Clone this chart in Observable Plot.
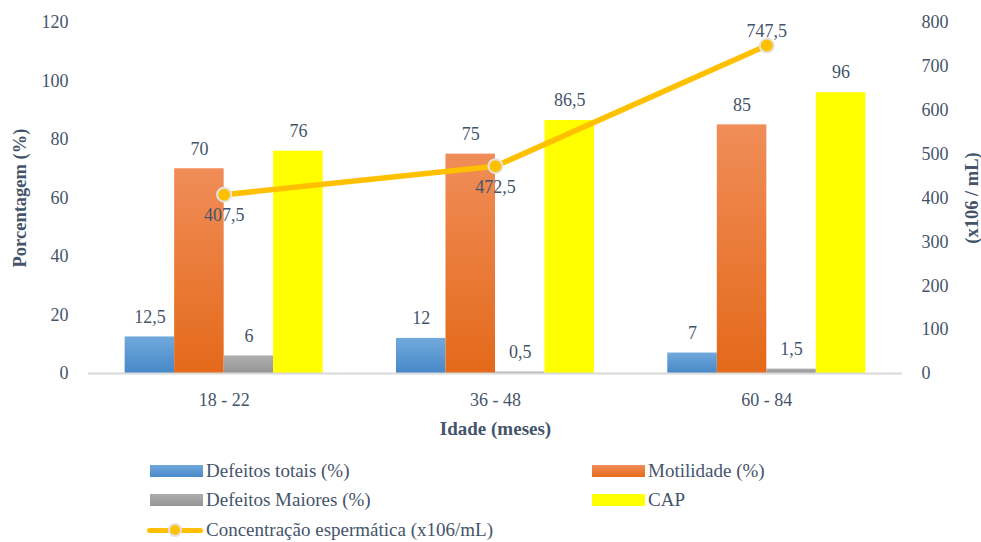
<!DOCTYPE html>
<html>
<head>
<meta charset="utf-8">
<script src="https://cdn.jsdelivr.net/npm/d3@7"></script>
<script src="https://cdn.jsdelivr.net/npm/@observablehq/plot@0.6"></script>
<style>
  body { margin: 0; background: #fff; }
  #wrap { position: relative; width: 981px; height: 542px; font-family: "Liberation Serif", serif; color: #44546A; }
  #chart svg { display: block; }
  .leg { position: absolute; display: flex; align-items: center; font-size: 19px; line-height: 22px; white-space: nowrap; }
  .sw { width: 53px; height: 12px; margin-right: 3px; }
  .swline { position: relative; width: 56px; height: 14px; margin-right: 3px; }
  .swline .ln { position: absolute; left: 0; right: 0; top: 5px; height: 5px; background: #FFC000; border-radius: 3px; }
  .swline .pt { position: absolute; left: 21px; top: 0; width: 10px; height: 10px; border-radius: 50%; background: #FFC000; border: 2px solid #E2E2E2; }
</style>
</head>
<body>
<div id="wrap">
  <div id="chart"></div>
  <div class="leg" style="left:150px; top:460px;"><div class="sw" style="background:linear-gradient(#6FA8DC,#4A89C9)"></div>Defeitos totais (%)</div>
  <div class="leg" style="left:592px; top:460px;"><div class="sw" style="background:linear-gradient(#F08D57,#E46C1C)"></div>Motilidade (%)</div>
  <div class="leg" style="left:150px; top:489px;"><div class="sw" style="background:linear-gradient(#ADADAD,#959595)"></div>Defeitos Maiores (%)</div>
  <div class="leg" style="left:592px; top:489px;"><div class="sw" style="background:#FFFF00"></div>CAP</div>
  <div class="leg" style="left:147px; top:519px;"><div class="swline"><div class="ln"></div><div class="pt"></div></div>Concentração espermática (x106/mL)</div>
</div>
<script>
// Age classes (months)
const ages = ["18 - 22", "36 - 48", "60 - 84"];

// Percentages (left axis)
const defeitosTotais = [12.5, 12, 7];
const motilidade = [70, 75, 85];
const defeitosMaiores = [6, 0.5, 1.5];
const cap = [76, 86.5, 96];

// Sperm concentration, x10^6 / mL (right axis)
const concentracao = [407.5, 472.5, 747.5];

// Axis ticks
const leftTicks = [0, 20, 40, 60, 80, 100, 120];
const rightTicks = [0, 100, 200, 300, 400, 500, 600, 700, 800];

const leftMax = 120, rightMax = 800;
const toLeft = v => v * leftMax / rightMax;
const fmt = v => String(v).replace(".", ",");
const textColor = "#44546A";

const series = [
  {values: defeitosTotais, fill: "url(#gBlue)"},
  {values: motilidade, fill: "url(#gOrange)"},
  {values: defeitosMaiores, fill: "url(#gGrey)"},
  {values: cap, fill: "#FFFF00"}
];
const groupWidth = 0.73;
const barW = groupWidth / series.length;

const barRows = series.map((s, k) => s.values.map((v, i) => ({
  x1: i - groupWidth / 2 + k * barW,
  x2: i - groupWidth / 2 + (k + 1) * barW,
  xc: i - groupWidth / 2 + (k + 0.5) * barW,
  v
})));

const lineRows = concentracao.map((v, i) => ({i, v, y: toLeft(v)}));

function gradients() {
  const defs = d3.create("svg:defs");
  const add = (id, top, bottom) => {
    const g = defs.append("linearGradient").attr("id", id).attr("x1", 0).attr("x2", 0).attr("y1", 0).attr("y2", 1);
    g.append("stop").attr("offset", "0%").attr("stop-color", top);
    g.append("stop").attr("offset", "100%").attr("stop-color", bottom);
  };
  add("gBlue", "#70A9DD", "#4888C8");
  add("gOrange", "#F08D58", "#E4691A");
  add("gGrey", "#AEAEAE", "#959595");
  return defs.node();
}

const chart = Plot.plot({
  width: 981,
  height: 450,
  marginLeft: 88,
  marginRight: 79,
  marginTop: 22,
  marginBottom: 77,
  style: {fontFamily: "Liberation Serif, serif", fontSize: "18px", color: textColor, background: "transparent"},
  x: {domain: [-0.5, 2.5], axis: null},
  y: {domain: [0, leftMax], axis: null},
  marks: [
    gradients,
    ...barRows.map((rows, k) => Plot.rectY(rows, {x1: "x1", x2: "x2", y1: 0, y2: "v", fill: series[k].fill})),
    Plot.ruleY([0], {stroke: "#D9D9D9", strokeWidth: 2}),
    ...barRows.map(rows => Plot.text(rows, {x: "xc", y: "v", text: d => fmt(d.v), dy: -20, fill: textColor, fontSize: 18})),
    Plot.line(lineRows, {x: "i", y: "y", stroke: "#FFC000", strokeWidth: 5.5, strokeLinecap: "round"}),
    Plot.dot(lineRows, {x: "i", y: "y", r: 7, fill: "#FFC000", stroke: "#E4E4E4", strokeWidth: 2}),
    Plot.text(lineRows.filter(d => d.i < 2), {x: "i", y: "y", text: d => fmt(d.v), dy: 21, fill: textColor, fontSize: 18}),
    Plot.text(lineRows.filter(d => d.i === 2), {x: "i", y: "y", text: d => fmt(d.v), dy: -14, fill: textColor, fontSize: 18}),
    Plot.axisX([0, 1, 2], {tickSize: 0, tickPadding: 20, tickFormat: i => ages[i], fontSize: 18}),
    Plot.axisY(leftTicks, {anchor: "left", tickSize: 0, tickPadding: 20, fontSize: 18, label: null}),
    Plot.axisY(rightTicks.map(toLeft), {anchor: "right", tickSize: 0, tickPadding: 19, fontSize: 18, label: null,
      tickFormat: d => String(Math.round(d * rightMax / leftMax))}),
    Plot.text(["Porcentagem (%)"], {frameAnchor: "left", textAnchor: "middle", dx: -68, rotate: -90, fontWeight: "bold", fontSize: 18.5, fill: textColor}),
    Plot.text(["(x106 / mL)"], {frameAnchor: "right", textAnchor: "middle", dx: 70, rotate: -90, fontWeight: "bold", fontSize: 18.5, fill: textColor}),
    Plot.text(["Idade (meses)"], {frameAnchor: "bottom", textAnchor: "middle", dy: 61, fontWeight: "bold", fontSize: 19, fill: textColor})
  ]
});
document.getElementById("chart").appendChild(chart);
</script>
</body>
</html>
